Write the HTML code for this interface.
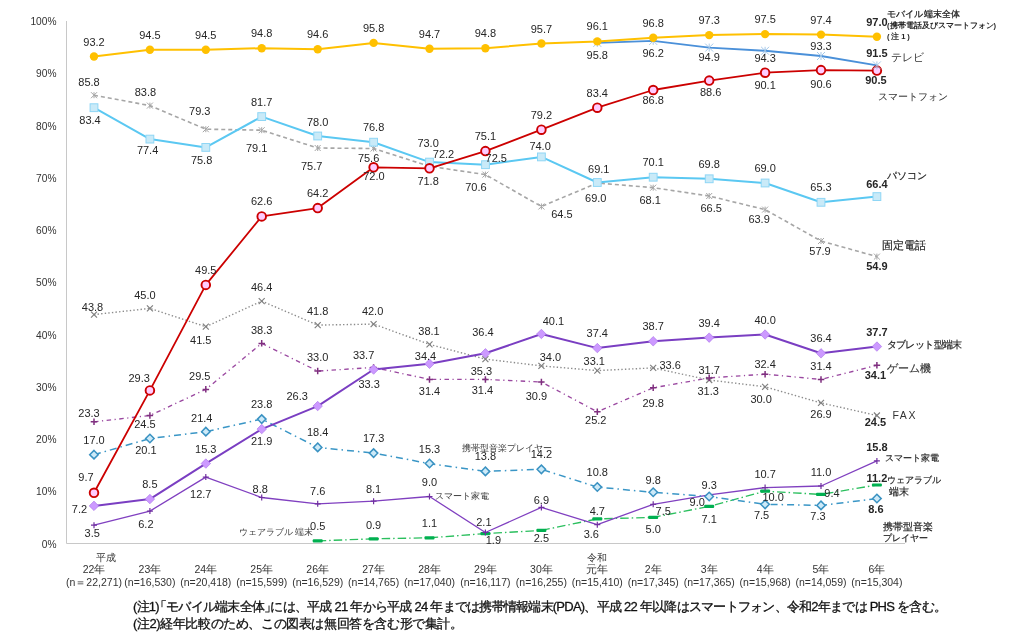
<!DOCTYPE html>
<html><head><meta charset="utf-8"><style>html,body{margin:0;padding:0;background:#fff;width:1024px;height:644px;overflow:hidden;position:relative}</style></head>
<body>
<svg width="1024" height="644" viewBox="0 0 1024 644" style="position:absolute;left:0;top:0;will-change:transform;font-family:'Liberation Sans', sans-serif">
<rect width="1024" height="644" fill="#ffffff"/>
<path d="M66.5 21V543.5H905" fill="none" stroke="#C8C8C8" stroke-width="1"/>
<text x="56.5" y="547.5" font-size="10.2" text-anchor="end" font-weight="normal" fill="#333333">0%</text>
<text x="56.5" y="495.2" font-size="10.2" text-anchor="end" font-weight="normal" fill="#333333">10%</text>
<text x="56.5" y="443.0" font-size="10.2" text-anchor="end" font-weight="normal" fill="#333333">20%</text>
<text x="56.5" y="390.8" font-size="10.2" text-anchor="end" font-weight="normal" fill="#333333">30%</text>
<text x="56.5" y="338.5" font-size="10.2" text-anchor="end" font-weight="normal" fill="#333333">40%</text>
<text x="56.5" y="286.2" font-size="10.2" text-anchor="end" font-weight="normal" fill="#333333">50%</text>
<text x="56.5" y="234.0" font-size="10.2" text-anchor="end" font-weight="normal" fill="#333333">60%</text>
<text x="56.5" y="181.8" font-size="10.2" text-anchor="end" font-weight="normal" fill="#333333">70%</text>
<text x="56.5" y="129.5" font-size="10.2" text-anchor="end" font-weight="normal" fill="#333333">80%</text>
<text x="56.5" y="77.3" font-size="10.2" text-anchor="end" font-weight="normal" fill="#333333">90%</text>
<text x="56.5" y="25.0" font-size="10.2" text-anchor="end" font-weight="normal" fill="#333333">100%</text>
<polyline points="317.7,540.9 373.6,538.8 429.5,537.8 485.4,533.6 541.4,530.4 597.3,518.9 653.2,517.4 709.2,506.4 765.1,491.2 821.0,494.4 876.9,485.0" fill="none" stroke="#2BBF5E" stroke-width="1.35" stroke-dasharray="8.5,3,1.5,3" stroke-linejoin="round" stroke-linecap="butt"/>
<polyline points="94.0,525.2 149.9,511.1 205.8,477.1 261.7,497.5 317.7,503.8 373.6,501.2 429.5,496.5 485.4,532.5 541.4,507.4 597.3,524.7 653.2,504.3 709.2,494.9 765.1,487.6 821.0,486.0 876.9,460.9" fill="none" stroke="#8040C0" stroke-width="1.3" stroke-linejoin="round" stroke-linecap="butt"/>
<polyline points="94.0,454.7 149.9,438.5 205.8,431.7 261.7,419.1 317.7,447.4 373.6,453.1 429.5,463.6 485.4,471.4 541.4,469.3 597.3,487.1 653.2,492.3 709.2,496.5 765.1,504.3 821.0,505.4 876.9,498.6" fill="none" stroke="#3A96C6" stroke-width="1.5" stroke-dasharray="7,4,1.5,4" stroke-linejoin="round" stroke-linecap="butt"/>
<polyline points="94.0,314.6 149.9,308.4 205.8,326.7 261.7,301.1 317.7,325.1 373.6,324.1 429.5,344.4 485.4,359.1 541.4,365.9 597.3,370.6 653.2,367.9 709.2,380.0 765.1,386.8 821.0,402.9 876.9,415.5" fill="none" stroke="#8C8C8C" stroke-width="1.4" stroke-dasharray="1.4,2.2" stroke-linejoin="round" stroke-linecap="butt"/>
<polyline points="94.0,421.8 149.9,415.5 205.8,389.4 261.7,343.4 317.7,371.1 373.6,367.4 429.5,379.4 485.4,379.4 541.4,382.0 597.3,411.8 653.2,387.8 709.2,377.9 765.1,374.2 821.0,379.4 876.9,365.3" fill="none" stroke="#9A48A0" stroke-width="1.35" stroke-dasharray="4.5,3.5,1.2,3.5" stroke-linejoin="round" stroke-linecap="butt"/>
<polyline points="94.0,505.9 149.9,499.1 205.8,463.6 261.7,429.1 317.7,406.1 373.6,369.5 429.5,363.8 485.4,353.3 541.4,334.0 597.3,348.1 653.2,341.3 709.2,337.6 765.1,334.5 821.0,353.3 876.9,346.5" fill="none" stroke="#7A3EC2" stroke-width="2" stroke-linejoin="round" stroke-linecap="butt"/>
<polyline points="94.0,95.2 149.9,105.6 205.8,129.2 261.7,130.2 317.7,148.0 373.6,148.5 429.5,166.3 485.4,174.6 541.4,206.5 597.3,183.0 653.2,187.7 709.2,196.0 765.1,209.6 821.0,241.0 876.9,256.6" fill="none" stroke="#A6A6A6" stroke-width="1.6" stroke-dasharray="4,3" stroke-linejoin="round" stroke-linecap="butt"/>
<polyline points="94.0,107.7 149.9,139.1 205.8,147.4 261.7,116.6 317.7,136.0 373.6,142.2 429.5,162.1 485.4,164.7 541.4,156.9 597.3,182.5 653.2,177.2 709.2,178.8 765.1,183.0 821.0,202.3 876.9,196.6" fill="none" stroke="#5BC8F2" stroke-width="2" stroke-linejoin="round" stroke-linecap="butt"/>
<polyline points="94.0,492.8 149.9,390.4 205.8,284.9 261.7,216.4 317.7,208.1 373.6,167.3 429.5,168.3 485.4,151.1 541.4,129.7 597.3,107.7 653.2,90.0 709.2,80.6 765.1,72.7 821.0,70.1 876.9,70.6" fill="none" stroke="#CC0000" stroke-width="1.8" stroke-linejoin="round" stroke-linecap="butt"/>
<polyline points="597.3,42.9 653.2,40.9 709.2,47.6 765.1,50.8 821.0,56.0 876.9,65.4" fill="none" stroke="#4A90D9" stroke-width="1.9" stroke-linejoin="round" stroke-linecap="butt"/>
<polyline points="94.0,56.5 149.9,49.7 205.8,49.7 261.7,48.2 317.7,49.2 373.6,42.9 429.5,48.7 485.4,48.2 541.4,43.5 597.3,41.4 653.2,37.7 709.2,35.1 765.1,34.1 821.0,34.6 876.9,36.7" fill="none" stroke="#FFC000" stroke-width="2" stroke-linejoin="round" stroke-linecap="butt"/>
<rect x="312.7" y="539.3" width="10" height="3.2" rx="1" fill="#00B050"/>
<rect x="368.6" y="537.2" width="10" height="3.2" rx="1" fill="#00B050"/>
<rect x="424.5" y="536.2" width="10" height="3.2" rx="1" fill="#00B050"/>
<rect x="480.4" y="532.0" width="10" height="3.2" rx="1" fill="#00B050"/>
<rect x="536.4" y="528.8" width="10" height="3.2" rx="1" fill="#00B050"/>
<rect x="592.3" y="517.3" width="10" height="3.2" rx="1" fill="#00B050"/>
<rect x="648.2" y="515.8" width="10" height="3.2" rx="1" fill="#00B050"/>
<rect x="704.2" y="504.8" width="10" height="3.2" rx="1" fill="#00B050"/>
<rect x="760.1" y="489.6" width="10" height="3.2" rx="1" fill="#00B050"/>
<rect x="816.0" y="492.8" width="10" height="3.2" rx="1" fill="#00B050"/>
<rect x="871.9" y="483.4" width="10" height="3.2" rx="1" fill="#00B050"/>
<path d="M91.0 525.2L97.0 525.2M94.0 522.2L94.0 528.2" stroke="#7030A0" stroke-width="1.2" fill="none"/>
<path d="M146.9 511.1L152.9 511.1M149.9 508.1L149.9 514.1" stroke="#7030A0" stroke-width="1.2" fill="none"/>
<path d="M202.8 477.1L208.8 477.1M205.8 474.1L205.8 480.1" stroke="#7030A0" stroke-width="1.2" fill="none"/>
<path d="M258.7 497.5L264.7 497.5M261.7 494.5L261.7 500.5" stroke="#7030A0" stroke-width="1.2" fill="none"/>
<path d="M314.7 503.8L320.7 503.8M317.7 500.8L317.7 506.8" stroke="#7030A0" stroke-width="1.2" fill="none"/>
<path d="M370.6 501.2L376.6 501.2M373.6 498.2L373.6 504.2" stroke="#7030A0" stroke-width="1.2" fill="none"/>
<path d="M426.5 496.5L432.5 496.5M429.5 493.5L429.5 499.5" stroke="#7030A0" stroke-width="1.2" fill="none"/>
<path d="M482.4 532.5L488.4 532.5M485.4 529.5L485.4 535.5" stroke="#7030A0" stroke-width="1.2" fill="none"/>
<path d="M538.4 507.4L544.4 507.4M541.4 504.4L541.4 510.4" stroke="#7030A0" stroke-width="1.2" fill="none"/>
<path d="M594.3 524.7L600.3 524.7M597.3 521.7L597.3 527.7" stroke="#7030A0" stroke-width="1.2" fill="none"/>
<path d="M650.2 504.3L656.2 504.3M653.2 501.3L653.2 507.3" stroke="#7030A0" stroke-width="1.2" fill="none"/>
<path d="M706.2 494.9L712.2 494.9M709.2 491.9L709.2 497.9" stroke="#7030A0" stroke-width="1.2" fill="none"/>
<path d="M762.1 487.6L768.1 487.6M765.1 484.6L765.1 490.6" stroke="#7030A0" stroke-width="1.2" fill="none"/>
<path d="M818.0 486.0L824.0 486.0M821.0 483.0L821.0 489.0" stroke="#7030A0" stroke-width="1.2" fill="none"/>
<path d="M873.9 460.9L879.9 460.9M876.9 457.9L876.9 463.9" stroke="#7030A0" stroke-width="1.2" fill="none"/>
<path d="M94.0 450.4L98.2 454.7L94.0 458.9L89.7 454.7Z" fill="#CDEAF8" stroke="#3A92C2" stroke-width="1.5"/>
<path d="M149.9 434.2L154.1 438.5L149.9 442.7L145.6 438.5Z" fill="#CDEAF8" stroke="#3A92C2" stroke-width="1.5"/>
<path d="M205.8 427.4L210.1 431.7L205.8 435.9L201.6 431.7Z" fill="#CDEAF8" stroke="#3A92C2" stroke-width="1.5"/>
<path d="M261.7 414.9L266.0 419.1L261.7 423.4L257.5 419.1Z" fill="#CDEAF8" stroke="#3A92C2" stroke-width="1.5"/>
<path d="M317.7 443.1L321.9 447.4L317.7 451.6L313.4 447.4Z" fill="#CDEAF8" stroke="#3A92C2" stroke-width="1.5"/>
<path d="M373.6 448.9L377.8 453.1L373.6 457.4L369.3 453.1Z" fill="#CDEAF8" stroke="#3A92C2" stroke-width="1.5"/>
<path d="M429.5 459.3L433.8 463.6L429.5 467.8L425.3 463.6Z" fill="#CDEAF8" stroke="#3A92C2" stroke-width="1.5"/>
<path d="M485.4 467.1L489.7 471.4L485.4 475.6L481.2 471.4Z" fill="#CDEAF8" stroke="#3A92C2" stroke-width="1.5"/>
<path d="M541.4 465.1L545.6 469.3L541.4 473.6L537.1 469.3Z" fill="#CDEAF8" stroke="#3A92C2" stroke-width="1.5"/>
<path d="M597.3 482.8L601.6 487.1L597.3 491.3L593.1 487.1Z" fill="#CDEAF8" stroke="#3A92C2" stroke-width="1.5"/>
<path d="M653.2 488.0L657.5 492.3L653.2 496.5L649.0 492.3Z" fill="#CDEAF8" stroke="#3A92C2" stroke-width="1.5"/>
<path d="M709.2 492.2L713.4 496.5L709.2 500.7L704.9 496.5Z" fill="#CDEAF8" stroke="#3A92C2" stroke-width="1.5"/>
<path d="M765.1 500.1L769.3 504.3L765.1 508.6L760.8 504.3Z" fill="#CDEAF8" stroke="#3A92C2" stroke-width="1.5"/>
<path d="M821.0 501.1L825.3 505.4L821.0 509.6L816.8 505.4Z" fill="#CDEAF8" stroke="#3A92C2" stroke-width="1.5"/>
<path d="M876.9 494.3L881.2 498.6L876.9 502.8L872.7 498.6Z" fill="#CDEAF8" stroke="#3A92C2" stroke-width="1.5"/>
<path d="M91.0 311.6L97.0 317.6M91.0 317.6L97.0 311.6" stroke="#808080" stroke-width="1.2" fill="none"/>
<path d="M146.9 305.4L152.9 311.4M146.9 311.4L152.9 305.4" stroke="#808080" stroke-width="1.2" fill="none"/>
<path d="M202.8 323.7L208.8 329.7M202.8 329.7L208.8 323.7" stroke="#808080" stroke-width="1.2" fill="none"/>
<path d="M258.7 298.1L264.7 304.1M258.7 304.1L264.7 298.1" stroke="#808080" stroke-width="1.2" fill="none"/>
<path d="M314.7 322.1L320.7 328.1M314.7 328.1L320.7 322.1" stroke="#808080" stroke-width="1.2" fill="none"/>
<path d="M370.6 321.1L376.6 327.1M370.6 327.1L376.6 321.1" stroke="#808080" stroke-width="1.2" fill="none"/>
<path d="M426.5 341.4L432.5 347.4M426.5 347.4L432.5 341.4" stroke="#808080" stroke-width="1.2" fill="none"/>
<path d="M482.4 356.1L488.4 362.1M482.4 362.1L488.4 356.1" stroke="#808080" stroke-width="1.2" fill="none"/>
<path d="M538.4 362.9L544.4 368.9M538.4 368.9L544.4 362.9" stroke="#808080" stroke-width="1.2" fill="none"/>
<path d="M594.3 367.6L600.3 373.6M594.3 373.6L600.3 367.6" stroke="#808080" stroke-width="1.2" fill="none"/>
<path d="M650.2 364.9L656.2 370.9M650.2 370.9L656.2 364.9" stroke="#808080" stroke-width="1.2" fill="none"/>
<path d="M706.2 377.0L712.2 383.0M706.2 383.0L712.2 377.0" stroke="#808080" stroke-width="1.2" fill="none"/>
<path d="M762.1 383.8L768.1 389.8M762.1 389.8L768.1 383.8" stroke="#808080" stroke-width="1.2" fill="none"/>
<path d="M818.0 399.9L824.0 405.9M818.0 405.9L824.0 399.9" stroke="#808080" stroke-width="1.2" fill="none"/>
<path d="M873.9 412.5L879.9 418.5M873.9 418.5L879.9 412.5" stroke="#808080" stroke-width="1.2" fill="none"/>
<path d="M90.7 421.8L97.2 421.8M94.0 418.5L94.0 425.0" stroke="#7F2F7F" stroke-width="1.5" fill="none"/>
<path d="M146.6 415.5L153.1 415.5M149.9 412.2L149.9 418.7" stroke="#7F2F7F" stroke-width="1.5" fill="none"/>
<path d="M202.6 389.4L209.1 389.4M205.8 386.1L205.8 392.6" stroke="#7F2F7F" stroke-width="1.5" fill="none"/>
<path d="M258.5 343.4L265.0 343.4M261.7 340.1L261.7 346.6" stroke="#7F2F7F" stroke-width="1.5" fill="none"/>
<path d="M314.4 371.1L320.9 371.1M317.7 367.8L317.7 374.3" stroke="#7F2F7F" stroke-width="1.5" fill="none"/>
<path d="M370.3 367.4L376.8 367.4M373.6 364.2L373.6 370.7" stroke="#7F2F7F" stroke-width="1.5" fill="none"/>
<path d="M426.3 379.4L432.8 379.4M429.5 376.2L429.5 382.7" stroke="#7F2F7F" stroke-width="1.5" fill="none"/>
<path d="M482.2 379.4L488.7 379.4M485.4 376.2L485.4 382.7" stroke="#7F2F7F" stroke-width="1.5" fill="none"/>
<path d="M538.1 382.0L544.6 382.0M541.4 378.8L541.4 385.3" stroke="#7F2F7F" stroke-width="1.5" fill="none"/>
<path d="M594.1 411.8L600.6 411.8M597.3 408.6L597.3 415.1" stroke="#7F2F7F" stroke-width="1.5" fill="none"/>
<path d="M650.0 387.8L656.5 387.8M653.2 384.5L653.2 391.0" stroke="#7F2F7F" stroke-width="1.5" fill="none"/>
<path d="M705.9 377.9L712.4 377.9M709.2 374.6L709.2 381.1" stroke="#7F2F7F" stroke-width="1.5" fill="none"/>
<path d="M761.8 374.2L768.3 374.2M765.1 371.0L765.1 377.5" stroke="#7F2F7F" stroke-width="1.5" fill="none"/>
<path d="M817.8 379.4L824.3 379.4M821.0 376.2L821.0 382.7" stroke="#7F2F7F" stroke-width="1.5" fill="none"/>
<path d="M873.7 365.3L880.2 365.3M876.9 362.1L876.9 368.6" stroke="#7F2F7F" stroke-width="1.5" fill="none"/>
<path d="M94.0 501.1L98.7 505.9L94.0 510.6L89.2 505.9Z" fill="#CC99FF" stroke="#A86FE8" stroke-width="0.6"/>
<path d="M149.9 494.3L154.6 499.1L149.9 503.8L145.1 499.1Z" fill="#CC99FF" stroke="#A86FE8" stroke-width="0.6"/>
<path d="M205.8 458.8L210.6 463.6L205.8 468.3L201.1 463.6Z" fill="#CC99FF" stroke="#A86FE8" stroke-width="0.6"/>
<path d="M261.7 424.3L266.5 429.1L261.7 433.8L257.0 429.1Z" fill="#CC99FF" stroke="#A86FE8" stroke-width="0.6"/>
<path d="M317.7 401.3L322.4 406.1L317.7 410.8L312.9 406.1Z" fill="#CC99FF" stroke="#A86FE8" stroke-width="0.6"/>
<path d="M373.6 364.8L378.3 369.5L373.6 374.3L368.8 369.5Z" fill="#CC99FF" stroke="#A86FE8" stroke-width="0.6"/>
<path d="M429.5 359.0L434.3 363.8L429.5 368.5L424.8 363.8Z" fill="#CC99FF" stroke="#A86FE8" stroke-width="0.6"/>
<path d="M485.4 348.6L490.2 353.3L485.4 358.1L480.7 353.3Z" fill="#CC99FF" stroke="#A86FE8" stroke-width="0.6"/>
<path d="M541.4 329.2L546.1 334.0L541.4 338.7L536.6 334.0Z" fill="#CC99FF" stroke="#A86FE8" stroke-width="0.6"/>
<path d="M597.3 343.3L602.1 348.1L597.3 352.8L592.6 348.1Z" fill="#CC99FF" stroke="#A86FE8" stroke-width="0.6"/>
<path d="M653.2 336.5L658.0 341.3L653.2 346.0L648.5 341.3Z" fill="#CC99FF" stroke="#A86FE8" stroke-width="0.6"/>
<path d="M709.2 332.9L713.9 337.6L709.2 342.4L704.4 337.6Z" fill="#CC99FF" stroke="#A86FE8" stroke-width="0.6"/>
<path d="M765.1 329.8L769.8 334.5L765.1 339.2L760.3 334.5Z" fill="#CC99FF" stroke="#A86FE8" stroke-width="0.6"/>
<path d="M821.0 348.6L825.8 353.3L821.0 358.1L816.3 353.3Z" fill="#CC99FF" stroke="#A86FE8" stroke-width="0.6"/>
<path d="M876.9 341.8L881.7 346.5L876.9 351.3L872.2 346.5Z" fill="#CC99FF" stroke="#A86FE8" stroke-width="0.6"/>
<path d="M91.0 92.2L97.0 98.2M91.0 98.2L97.0 92.2M94.0 92.2L94.0 98.2" stroke="#A6A6A6" stroke-width="1.0" fill="none"/>
<path d="M146.9 102.6L152.9 108.6M146.9 108.6L152.9 102.6M149.9 102.6L149.9 108.6" stroke="#A6A6A6" stroke-width="1.0" fill="none"/>
<path d="M202.8 126.2L208.8 132.2M202.8 132.2L208.8 126.2M205.8 126.2L205.8 132.2" stroke="#A6A6A6" stroke-width="1.0" fill="none"/>
<path d="M258.7 127.2L264.7 133.2M258.7 133.2L264.7 127.2M261.7 127.2L261.7 133.2" stroke="#A6A6A6" stroke-width="1.0" fill="none"/>
<path d="M314.7 145.0L320.7 151.0M314.7 151.0L320.7 145.0M317.7 145.0L317.7 151.0" stroke="#A6A6A6" stroke-width="1.0" fill="none"/>
<path d="M370.6 145.5L376.6 151.5M370.6 151.5L376.6 145.5M373.6 145.5L373.6 151.5" stroke="#A6A6A6" stroke-width="1.0" fill="none"/>
<path d="M426.5 163.3L432.5 169.3M426.5 169.3L432.5 163.3M429.5 163.3L429.5 169.3" stroke="#A6A6A6" stroke-width="1.0" fill="none"/>
<path d="M482.4 171.6L488.4 177.6M482.4 177.6L488.4 171.6M485.4 171.6L485.4 177.6" stroke="#A6A6A6" stroke-width="1.0" fill="none"/>
<path d="M538.4 203.5L544.4 209.5M538.4 209.5L544.4 203.5M541.4 203.5L541.4 209.5" stroke="#A6A6A6" stroke-width="1.0" fill="none"/>
<path d="M594.3 180.0L600.3 186.0M594.3 186.0L600.3 180.0M597.3 180.0L597.3 186.0" stroke="#A6A6A6" stroke-width="1.0" fill="none"/>
<path d="M650.2 184.7L656.2 190.7M650.2 190.7L656.2 184.7M653.2 184.7L653.2 190.7" stroke="#A6A6A6" stroke-width="1.0" fill="none"/>
<path d="M706.2 193.0L712.2 199.0M706.2 199.0L712.2 193.0M709.2 193.0L709.2 199.0" stroke="#A6A6A6" stroke-width="1.0" fill="none"/>
<path d="M762.1 206.6L768.1 212.6M762.1 212.6L768.1 206.6M765.1 206.6L765.1 212.6" stroke="#A6A6A6" stroke-width="1.0" fill="none"/>
<path d="M818.0 238.0L824.0 244.0M818.0 244.0L824.0 238.0M821.0 238.0L821.0 244.0" stroke="#A6A6A6" stroke-width="1.0" fill="none"/>
<path d="M873.9 253.6L879.9 259.6M873.9 259.6L879.9 253.6M876.9 253.6L876.9 259.6" stroke="#A6A6A6" stroke-width="1.0" fill="none"/>
<rect x="90.1" y="103.8" width="7.8" height="7.8" fill="#C9EAF8" stroke="#8FD6F5" stroke-width="1"/>
<rect x="146.0" y="135.2" width="7.8" height="7.8" fill="#C9EAF8" stroke="#8FD6F5" stroke-width="1"/>
<rect x="201.9" y="143.5" width="7.8" height="7.8" fill="#C9EAF8" stroke="#8FD6F5" stroke-width="1"/>
<rect x="257.8" y="112.7" width="7.8" height="7.8" fill="#C9EAF8" stroke="#8FD6F5" stroke-width="1"/>
<rect x="313.8" y="132.1" width="7.8" height="7.8" fill="#C9EAF8" stroke="#8FD6F5" stroke-width="1"/>
<rect x="369.7" y="138.3" width="7.8" height="7.8" fill="#C9EAF8" stroke="#8FD6F5" stroke-width="1"/>
<rect x="425.6" y="158.2" width="7.8" height="7.8" fill="#C9EAF8" stroke="#8FD6F5" stroke-width="1"/>
<rect x="481.6" y="160.8" width="7.8" height="7.8" fill="#C9EAF8" stroke="#8FD6F5" stroke-width="1"/>
<rect x="537.5" y="153.0" width="7.8" height="7.8" fill="#C9EAF8" stroke="#8FD6F5" stroke-width="1"/>
<rect x="593.4" y="178.6" width="7.8" height="7.8" fill="#C9EAF8" stroke="#8FD6F5" stroke-width="1"/>
<rect x="649.3" y="173.3" width="7.8" height="7.8" fill="#C9EAF8" stroke="#8FD6F5" stroke-width="1"/>
<rect x="705.3" y="174.9" width="7.8" height="7.8" fill="#C9EAF8" stroke="#8FD6F5" stroke-width="1"/>
<rect x="761.2" y="179.1" width="7.8" height="7.8" fill="#C9EAF8" stroke="#8FD6F5" stroke-width="1"/>
<rect x="817.1" y="198.4" width="7.8" height="7.8" fill="#C9EAF8" stroke="#8FD6F5" stroke-width="1"/>
<rect x="873.0" y="192.7" width="7.8" height="7.8" fill="#C9EAF8" stroke="#8FD6F5" stroke-width="1"/>
<circle cx="94.0" cy="492.8" r="4.3" fill="#FFCCFF" stroke="#CC0000" stroke-width="1.9"/>
<circle cx="149.9" cy="390.4" r="4.3" fill="#FFCCFF" stroke="#CC0000" stroke-width="1.9"/>
<circle cx="205.8" cy="284.9" r="4.3" fill="#FFCCFF" stroke="#CC0000" stroke-width="1.9"/>
<circle cx="261.7" cy="216.4" r="4.3" fill="#FFCCFF" stroke="#CC0000" stroke-width="1.9"/>
<circle cx="317.7" cy="208.1" r="4.3" fill="#FFCCFF" stroke="#CC0000" stroke-width="1.9"/>
<circle cx="373.6" cy="167.3" r="4.3" fill="#FFCCFF" stroke="#CC0000" stroke-width="1.9"/>
<circle cx="429.5" cy="168.3" r="4.3" fill="#FFCCFF" stroke="#CC0000" stroke-width="1.9"/>
<circle cx="485.4" cy="151.1" r="4.3" fill="#FFCCFF" stroke="#CC0000" stroke-width="1.9"/>
<circle cx="541.4" cy="129.7" r="4.3" fill="#FFCCFF" stroke="#CC0000" stroke-width="1.9"/>
<circle cx="597.3" cy="107.7" r="4.3" fill="#FFCCFF" stroke="#CC0000" stroke-width="1.9"/>
<circle cx="653.2" cy="90.0" r="4.3" fill="#FFCCFF" stroke="#CC0000" stroke-width="1.9"/>
<circle cx="709.2" cy="80.6" r="4.3" fill="#FFCCFF" stroke="#CC0000" stroke-width="1.9"/>
<circle cx="765.1" cy="72.7" r="4.3" fill="#FFCCFF" stroke="#CC0000" stroke-width="1.9"/>
<circle cx="821.0" cy="70.1" r="4.3" fill="#FFCCFF" stroke="#CC0000" stroke-width="1.9"/>
<circle cx="876.9" cy="70.6" r="4.3" fill="#FFCCFF" stroke="#CC0000" stroke-width="1.9"/>
<path d="M593.3 38.9L601.3 46.9M593.3 46.9L601.3 38.9M597.3 38.9L597.3 46.9" stroke="#9DC3E6" stroke-width="0.9" fill="none"/>
<path d="M649.2 36.9L657.2 44.9M649.2 44.9L657.2 36.9M653.2 36.9L653.2 44.9" stroke="#9DC3E6" stroke-width="0.9" fill="none"/>
<path d="M705.2 43.6L713.2 51.6M705.2 51.6L713.2 43.6M709.2 43.6L709.2 51.6" stroke="#9DC3E6" stroke-width="0.9" fill="none"/>
<path d="M761.1 46.8L769.1 54.8M761.1 54.8L769.1 46.8M765.1 46.8L765.1 54.8" stroke="#9DC3E6" stroke-width="0.9" fill="none"/>
<path d="M817.0 52.0L825.0 60.0M817.0 60.0L825.0 52.0M821.0 52.0L821.0 60.0" stroke="#9DC3E6" stroke-width="0.9" fill="none"/>
<path d="M872.9 61.4L880.9 69.4M872.9 69.4L880.9 61.4M876.9 61.4L876.9 69.4" stroke="#9DC3E6" stroke-width="0.9" fill="none"/>
<circle cx="94.0" cy="56.5" r="4.2" fill="#FFC000"/>
<circle cx="149.9" cy="49.7" r="4.2" fill="#FFC000"/>
<circle cx="205.8" cy="49.7" r="4.2" fill="#FFC000"/>
<circle cx="261.7" cy="48.2" r="4.2" fill="#FFC000"/>
<circle cx="317.7" cy="49.2" r="4.2" fill="#FFC000"/>
<circle cx="373.6" cy="42.9" r="4.2" fill="#FFC000"/>
<circle cx="429.5" cy="48.7" r="4.2" fill="#FFC000"/>
<circle cx="485.4" cy="48.2" r="4.2" fill="#FFC000"/>
<circle cx="541.4" cy="43.5" r="4.2" fill="#FFC000"/>
<circle cx="597.3" cy="41.4" r="4.2" fill="#FFC000"/>
<circle cx="653.2" cy="37.7" r="4.2" fill="#FFC000"/>
<circle cx="709.2" cy="35.1" r="4.2" fill="#FFC000"/>
<circle cx="765.1" cy="34.1" r="4.2" fill="#FFC000"/>
<circle cx="821.0" cy="34.6" r="4.2" fill="#FFC000"/>
<circle cx="876.9" cy="36.7" r="4.2" fill="#FFC000"/>
<text x="94.0" y="45.5" font-size="11" text-anchor="middle" font-weight="normal" fill="#262626">93.2</text>
<text x="149.9" y="38.7" font-size="11" text-anchor="middle" font-weight="normal" fill="#262626">94.5</text>
<text x="205.8" y="38.7" font-size="11" text-anchor="middle" font-weight="normal" fill="#262626">94.5</text>
<text x="261.7" y="37.2" font-size="11" text-anchor="middle" font-weight="normal" fill="#262626">94.8</text>
<text x="317.7" y="38.2" font-size="11" text-anchor="middle" font-weight="normal" fill="#262626">94.6</text>
<text x="373.6" y="31.9" font-size="11" text-anchor="middle" font-weight="normal" fill="#262626">95.8</text>
<text x="429.5" y="37.7" font-size="11" text-anchor="middle" font-weight="normal" fill="#262626">94.7</text>
<text x="485.4" y="37.2" font-size="11" text-anchor="middle" font-weight="normal" fill="#262626">94.8</text>
<text x="541.4" y="32.5" font-size="11" text-anchor="middle" font-weight="normal" fill="#262626">95.7</text>
<text x="597.3" y="30.4" font-size="11" text-anchor="middle" font-weight="normal" fill="#262626">96.1</text>
<text x="653.2" y="26.7" font-size="11" text-anchor="middle" font-weight="normal" fill="#262626">96.8</text>
<text x="709.2" y="24.1" font-size="11" text-anchor="middle" font-weight="normal" fill="#262626">97.3</text>
<text x="765.1" y="23.1" font-size="11" text-anchor="middle" font-weight="normal" fill="#262626">97.5</text>
<text x="821.0" y="23.6" font-size="11" text-anchor="middle" font-weight="normal" fill="#262626">97.4</text>
<text x="876.9" y="25.7" font-size="11" text-anchor="middle" font-weight="bold" fill="#262626">97.0</text>
<text x="597.3" y="58.7" font-size="11" text-anchor="middle" font-weight="normal" fill="#262626">95.8</text>
<text x="653.2" y="56.9" font-size="11" text-anchor="middle" font-weight="normal" fill="#262626">96.2</text>
<text x="709.2" y="60.6" font-size="11" text-anchor="middle" font-weight="normal" fill="#262626">94.9</text>
<text x="765.1" y="61.6" font-size="11" text-anchor="middle" font-weight="normal" fill="#262626">94.3</text>
<text x="821.0" y="50.0" font-size="11" text-anchor="middle" font-weight="normal" fill="#262626">93.3</text>
<text x="876.9" y="57.4" font-size="11" text-anchor="middle" font-weight="bold" fill="#262626">91.5</text>
<text x="86.0" y="480.8" font-size="11" text-anchor="middle" font-weight="normal" fill="#262626">9.7</text>
<text x="139.2" y="382.0" font-size="11" text-anchor="middle" font-weight="normal" fill="#262626">29.3</text>
<text x="205.8" y="273.9" font-size="11" text-anchor="middle" font-weight="normal" fill="#262626">49.5</text>
<text x="261.7" y="205.4" font-size="11" text-anchor="middle" font-weight="normal" fill="#262626">62.6</text>
<text x="317.7" y="197.1" font-size="11" text-anchor="middle" font-weight="normal" fill="#262626">64.2</text>
<text x="373.9" y="180.3" font-size="11" text-anchor="middle" font-weight="normal" fill="#262626">72.0</text>
<text x="428.1" y="185.3" font-size="11" text-anchor="middle" font-weight="normal" fill="#262626">71.8</text>
<text x="485.4" y="140.1" font-size="11" text-anchor="middle" font-weight="normal" fill="#262626">75.1</text>
<text x="541.4" y="118.7" font-size="11" text-anchor="middle" font-weight="normal" fill="#262626">79.2</text>
<text x="597.3" y="96.7" font-size="11" text-anchor="middle" font-weight="normal" fill="#262626">83.4</text>
<text x="653.2" y="103.7" font-size="11" text-anchor="middle" font-weight="normal" fill="#262626">86.8</text>
<text x="710.7" y="95.9" font-size="11" text-anchor="middle" font-weight="normal" fill="#262626">88.6</text>
<text x="765.1" y="89.4" font-size="11" text-anchor="middle" font-weight="normal" fill="#262626">90.1</text>
<text x="821.0" y="87.8" font-size="11" text-anchor="middle" font-weight="normal" fill="#262626">90.6</text>
<text x="875.9" y="84.2" font-size="11" text-anchor="middle" font-weight="bold" fill="#262626">90.5</text>
<text x="90.0" y="123.7" font-size="11" text-anchor="middle" font-weight="normal" fill="#262626">83.4</text>
<text x="147.6" y="153.8" font-size="11" text-anchor="middle" font-weight="normal" fill="#262626">77.4</text>
<text x="201.6" y="164.1" font-size="11" text-anchor="middle" font-weight="normal" fill="#262626">75.8</text>
<text x="261.7" y="105.6" font-size="11" text-anchor="middle" font-weight="normal" fill="#262626">81.7</text>
<text x="317.7" y="125.7" font-size="11" text-anchor="middle" font-weight="normal" fill="#262626">78.0</text>
<text x="373.6" y="131.2" font-size="11" text-anchor="middle" font-weight="normal" fill="#262626">76.8</text>
<text x="428.1" y="147.1" font-size="11" text-anchor="middle" font-weight="normal" fill="#262626">73.0</text>
<text x="496.3" y="161.5" font-size="11" text-anchor="middle" font-weight="normal" fill="#262626">72.5</text>
<text x="540.1" y="149.9" font-size="11" text-anchor="middle" font-weight="normal" fill="#262626">74.0</text>
<text x="598.8" y="173.0" font-size="11" text-anchor="middle" font-weight="normal" fill="#262626">69.1</text>
<text x="653.2" y="166.2" font-size="11" text-anchor="middle" font-weight="normal" fill="#262626">70.1</text>
<text x="709.2" y="167.8" font-size="11" text-anchor="middle" font-weight="normal" fill="#262626">69.8</text>
<text x="765.1" y="172.0" font-size="11" text-anchor="middle" font-weight="normal" fill="#262626">69.0</text>
<text x="821.0" y="191.3" font-size="11" text-anchor="middle" font-weight="normal" fill="#262626">65.3</text>
<text x="876.9" y="188.2" font-size="11" text-anchor="middle" font-weight="bold" fill="#262626">66.4</text>
<text x="89.0" y="85.6" font-size="11" text-anchor="middle" font-weight="normal" fill="#262626">85.8</text>
<text x="145.4" y="96.2" font-size="11" text-anchor="middle" font-weight="normal" fill="#262626">83.8</text>
<text x="199.8" y="114.7" font-size="11" text-anchor="middle" font-weight="normal" fill="#262626">79.3</text>
<text x="256.7" y="152.2" font-size="11" text-anchor="middle" font-weight="normal" fill="#262626">79.1</text>
<text x="311.7" y="170.0" font-size="11" text-anchor="middle" font-weight="normal" fill="#262626">75.7</text>
<text x="368.6" y="162.0" font-size="11" text-anchor="middle" font-weight="normal" fill="#262626">75.6</text>
<text x="443.5" y="158.0" font-size="11" text-anchor="middle" font-weight="normal" fill="#262626">72.2</text>
<text x="475.9" y="190.6" font-size="11" text-anchor="middle" font-weight="normal" fill="#262626">70.6</text>
<text x="561.9" y="218.2" font-size="11" text-anchor="middle" font-weight="normal" fill="#262626">64.5</text>
<text x="595.8" y="202.0" font-size="11" text-anchor="middle" font-weight="normal" fill="#262626">69.0</text>
<text x="650.2" y="203.7" font-size="11" text-anchor="middle" font-weight="normal" fill="#262626">68.1</text>
<text x="711.2" y="212.0" font-size="11" text-anchor="middle" font-weight="normal" fill="#262626">66.5</text>
<text x="759.1" y="223.2" font-size="11" text-anchor="middle" font-weight="normal" fill="#262626">63.9</text>
<text x="820.0" y="255.0" font-size="11" text-anchor="middle" font-weight="normal" fill="#262626">57.9</text>
<text x="876.9" y="269.9" font-size="11" text-anchor="middle" font-weight="bold" fill="#262626">54.9</text>
<text x="79.5" y="512.9" font-size="11" text-anchor="middle" font-weight="normal" fill="#262626">7.2</text>
<text x="149.9" y="488.1" font-size="11" text-anchor="middle" font-weight="normal" fill="#262626">8.5</text>
<text x="205.8" y="452.6" font-size="11" text-anchor="middle" font-weight="normal" fill="#262626">15.3</text>
<text x="261.7" y="444.6" font-size="11" text-anchor="middle" font-weight="normal" fill="#262626">21.9</text>
<text x="297.2" y="400.1" font-size="11" text-anchor="middle" font-weight="normal" fill="#262626">26.3</text>
<text x="369.1" y="387.5" font-size="11" text-anchor="middle" font-weight="normal" fill="#262626">33.3</text>
<text x="425.5" y="360.1" font-size="11" text-anchor="middle" font-weight="normal" fill="#262626">34.4</text>
<text x="482.9" y="335.7" font-size="11" text-anchor="middle" font-weight="normal" fill="#262626">36.4</text>
<text x="553.4" y="325.0" font-size="11" text-anchor="middle" font-weight="normal" fill="#262626">40.1</text>
<text x="597.3" y="337.1" font-size="11" text-anchor="middle" font-weight="normal" fill="#262626">37.4</text>
<text x="653.2" y="330.3" font-size="11" text-anchor="middle" font-weight="normal" fill="#262626">38.7</text>
<text x="709.2" y="326.6" font-size="11" text-anchor="middle" font-weight="normal" fill="#262626">39.4</text>
<text x="765.1" y="323.5" font-size="11" text-anchor="middle" font-weight="normal" fill="#262626">40.0</text>
<text x="821.0" y="342.3" font-size="11" text-anchor="middle" font-weight="normal" fill="#262626">36.4</text>
<text x="876.9" y="335.5" font-size="11" text-anchor="middle" font-weight="bold" fill="#262626">37.7</text>
<text x="89.0" y="417.1" font-size="11" text-anchor="middle" font-weight="normal" fill="#262626">23.3</text>
<text x="144.9" y="428.3" font-size="11" text-anchor="middle" font-weight="normal" fill="#262626">24.5</text>
<text x="199.8" y="380.0" font-size="11" text-anchor="middle" font-weight="normal" fill="#262626">29.5</text>
<text x="261.7" y="334.0" font-size="11" text-anchor="middle" font-weight="normal" fill="#262626">38.3</text>
<text x="317.7" y="361.4" font-size="11" text-anchor="middle" font-weight="normal" fill="#262626">33.0</text>
<text x="363.6" y="358.8" font-size="11" text-anchor="middle" font-weight="normal" fill="#262626">33.7</text>
<text x="429.5" y="394.8" font-size="11" text-anchor="middle" font-weight="normal" fill="#262626">31.4</text>
<text x="482.4" y="394.4" font-size="11" text-anchor="middle" font-weight="normal" fill="#262626">31.4</text>
<text x="536.4" y="399.5" font-size="11" text-anchor="middle" font-weight="normal" fill="#262626">30.9</text>
<text x="595.8" y="423.8" font-size="11" text-anchor="middle" font-weight="normal" fill="#262626">25.2</text>
<text x="653.2" y="407.2" font-size="11" text-anchor="middle" font-weight="normal" fill="#262626">29.8</text>
<text x="709.2" y="373.6" font-size="11" text-anchor="middle" font-weight="normal" fill="#262626">31.7</text>
<text x="765.1" y="368.2" font-size="11" text-anchor="middle" font-weight="normal" fill="#262626">32.4</text>
<text x="821.0" y="369.8" font-size="11" text-anchor="middle" font-weight="normal" fill="#262626">31.4</text>
<text x="875.4" y="379.1" font-size="11" text-anchor="middle" font-weight="bold" fill="#262626">34.1</text>
<text x="92.5" y="311.1" font-size="11" text-anchor="middle" font-weight="normal" fill="#262626">43.8</text>
<text x="144.9" y="299.4" font-size="11" text-anchor="middle" font-weight="normal" fill="#262626">45.0</text>
<text x="200.8" y="344.3" font-size="11" text-anchor="middle" font-weight="normal" fill="#262626">41.5</text>
<text x="261.7" y="291.1" font-size="11" text-anchor="middle" font-weight="normal" fill="#262626">46.4</text>
<text x="317.7" y="315.1" font-size="11" text-anchor="middle" font-weight="normal" fill="#262626">41.8</text>
<text x="372.6" y="315.1" font-size="11" text-anchor="middle" font-weight="normal" fill="#262626">42.0</text>
<text x="429.0" y="335.1" font-size="11" text-anchor="middle" font-weight="normal" fill="#262626">38.1</text>
<text x="481.4" y="374.5" font-size="11" text-anchor="middle" font-weight="normal" fill="#262626">35.3</text>
<text x="550.4" y="360.5" font-size="11" text-anchor="middle" font-weight="normal" fill="#262626">34.0</text>
<text x="594.3" y="365.3" font-size="11" text-anchor="middle" font-weight="normal" fill="#262626">33.1</text>
<text x="670.2" y="368.9" font-size="11" text-anchor="middle" font-weight="normal" fill="#262626">33.6</text>
<text x="708.2" y="395.0" font-size="11" text-anchor="middle" font-weight="normal" fill="#262626">31.3</text>
<text x="761.1" y="403.4" font-size="11" text-anchor="middle" font-weight="normal" fill="#262626">30.0</text>
<text x="821.0" y="418.3" font-size="11" text-anchor="middle" font-weight="normal" fill="#262626">26.9</text>
<text x="875.4" y="425.8" font-size="11" text-anchor="middle" font-weight="bold" fill="#262626">24.5</text>
<text x="94.0" y="443.7" font-size="11" text-anchor="middle" font-weight="normal" fill="#262626">17.0</text>
<text x="145.9" y="454.3" font-size="11" text-anchor="middle" font-weight="normal" fill="#262626">20.1</text>
<text x="201.8" y="422.4" font-size="11" text-anchor="middle" font-weight="normal" fill="#262626">21.4</text>
<text x="261.7" y="408.1" font-size="11" text-anchor="middle" font-weight="normal" fill="#262626">23.8</text>
<text x="317.7" y="436.4" font-size="11" text-anchor="middle" font-weight="normal" fill="#262626">18.4</text>
<text x="373.6" y="442.1" font-size="11" text-anchor="middle" font-weight="normal" fill="#262626">17.3</text>
<text x="429.5" y="452.6" font-size="11" text-anchor="middle" font-weight="normal" fill="#262626">15.3</text>
<text x="485.4" y="460.4" font-size="11" text-anchor="middle" font-weight="normal" fill="#262626">13.8</text>
<text x="541.4" y="458.3" font-size="11" text-anchor="middle" font-weight="normal" fill="#262626">14.2</text>
<text x="597.3" y="476.1" font-size="11" text-anchor="middle" font-weight="normal" fill="#262626">10.8</text>
<text x="653.2" y="483.5" font-size="11" text-anchor="middle" font-weight="normal" fill="#262626">9.8</text>
<text x="697.2" y="505.9" font-size="11" text-anchor="middle" font-weight="normal" fill="#262626">9.0</text>
<text x="761.6" y="518.7" font-size="11" text-anchor="middle" font-weight="normal" fill="#262626">7.5</text>
<text x="818.0" y="519.9" font-size="11" text-anchor="middle" font-weight="normal" fill="#262626">7.3</text>
<text x="875.9" y="512.6" font-size="11" text-anchor="middle" font-weight="bold" fill="#262626">8.6</text>
<text x="92.2" y="536.8" font-size="11" text-anchor="middle" font-weight="normal" fill="#262626">3.5</text>
<text x="145.9" y="528.4" font-size="11" text-anchor="middle" font-weight="normal" fill="#262626">6.2</text>
<text x="200.8" y="498.1" font-size="11" text-anchor="middle" font-weight="normal" fill="#262626">12.7</text>
<text x="260.2" y="492.5" font-size="11" text-anchor="middle" font-weight="normal" fill="#262626">8.8</text>
<text x="317.7" y="494.8" font-size="11" text-anchor="middle" font-weight="normal" fill="#262626">7.6</text>
<text x="373.6" y="492.5" font-size="11" text-anchor="middle" font-weight="normal" fill="#262626">8.1</text>
<text x="429.5" y="486.0" font-size="11" text-anchor="middle" font-weight="normal" fill="#262626">9.0</text>
<text x="483.9" y="525.8" font-size="11" text-anchor="middle" font-weight="normal" fill="#262626">2.1</text>
<text x="541.4" y="503.9" font-size="11" text-anchor="middle" font-weight="normal" fill="#262626">6.9</text>
<text x="591.3" y="537.7" font-size="11" text-anchor="middle" font-weight="normal" fill="#262626">3.6</text>
<text x="663.2" y="515.3" font-size="11" text-anchor="middle" font-weight="normal" fill="#262626">7.5</text>
<text x="709.2" y="488.9" font-size="11" text-anchor="middle" font-weight="normal" fill="#262626">9.3</text>
<text x="765.1" y="478.3" font-size="11" text-anchor="middle" font-weight="normal" fill="#262626">10.7</text>
<text x="821.0" y="476.0" font-size="11" text-anchor="middle" font-weight="normal" fill="#262626">11.0</text>
<text x="876.9" y="450.9" font-size="11" text-anchor="middle" font-weight="bold" fill="#262626">15.8</text>
<text x="317.7" y="529.9" font-size="11" text-anchor="middle" font-weight="normal" fill="#262626">0.5</text>
<text x="373.6" y="528.8" font-size="11" text-anchor="middle" font-weight="normal" fill="#262626">0.9</text>
<text x="429.5" y="526.8" font-size="11" text-anchor="middle" font-weight="normal" fill="#262626">1.1</text>
<text x="493.4" y="544.0" font-size="11" text-anchor="middle" font-weight="normal" fill="#262626">1.9</text>
<text x="541.4" y="542.4" font-size="11" text-anchor="middle" font-weight="normal" fill="#262626">2.5</text>
<text x="597.3" y="514.9" font-size="11" text-anchor="middle" font-weight="normal" fill="#262626">4.7</text>
<text x="653.2" y="533.4" font-size="11" text-anchor="middle" font-weight="normal" fill="#262626">5.0</text>
<text x="709.2" y="522.8" font-size="11" text-anchor="middle" font-weight="normal" fill="#262626">7.1</text>
<text x="773.1" y="501.1" font-size="11" text-anchor="middle" font-weight="normal" fill="#262626">10.0</text>
<text x="832.0" y="497.4" font-size="11" text-anchor="middle" font-weight="normal" fill="#262626">9.4</text>
<text x="876.9" y="481.7" font-size="11" text-anchor="middle" font-weight="bold" fill="#262626">11.2</text>
<text x="887.0" y="17.0" font-size="9.45" text-anchor="start" font-weight="normal" fill="#1a1a1a" stroke="#1a1a1a" stroke-width="0.25">モバイル&#8202;端末全体</text>
<text x="887.0" y="28.0" font-size="7.6" text-anchor="start" font-weight="bold" fill="#262626">(携帯電話及びスマートフォン)</text>
<text x="887.0" y="39.0" font-size="7.6" text-anchor="start" font-weight="bold" fill="#262626" letter-spacing="1.8">(注1)</text>
<text x="890.5" y="61.0" font-size="10.5" text-anchor="start" font-weight="normal" fill="#333333">テレビ</text>
<text x="877.5" y="100.0" font-size="10" text-anchor="start" font-weight="normal" fill="#333333">スマートフォン</text>
<text x="886.5" y="178.5" font-size="9.5" text-anchor="start" font-weight="normal" fill="#262626" stroke="#262626" stroke-width="0.2">パソコン</text>
<text x="881.5" y="248.5" font-size="10.6" text-anchor="start" font-weight="normal" fill="#262626" stroke="#262626" stroke-width="0.2">固定電話</text>
<text x="886.5" y="348.3" font-size="10" text-anchor="start" font-weight="normal" fill="#262626" stroke="#262626" stroke-width="0.2" letter-spacing="-0.6">タブレット型端末</text>
<text x="886.7" y="371.5" font-size="10.5" text-anchor="start" font-weight="normal" fill="#333333" stroke="#333333" stroke-width="0.15">ゲーム機</text>
<text x="892.4" y="418.6" font-size="10.5" text-anchor="start" font-weight="normal" fill="#333333" letter-spacing="1.6">FAX</text>
<text x="884.7" y="460.5" font-size="9" text-anchor="start" font-weight="normal" fill="#262626" stroke="#262626" stroke-width="0.2">スマート家電</text>
<text x="887.0" y="482.5" font-size="8.6" text-anchor="start" font-weight="normal" fill="#262626" stroke="#262626" stroke-width="0.2">ウェアラブル</text>
<text x="889.0" y="494.5" font-size="9.5" text-anchor="start" font-weight="normal" fill="#262626" stroke="#262626" stroke-width="0.2">端末</text>
<text x="883.4" y="530.0" font-size="9.6" text-anchor="start" font-weight="normal" fill="#262626" stroke="#262626" stroke-width="0.2">携帯型音楽</text>
<text x="883.4" y="541.0" font-size="9" text-anchor="start" font-weight="normal" fill="#262626" stroke="#262626" stroke-width="0.2">プレイヤー</text>
<text x="239.3" y="534.6" font-size="8.7" text-anchor="start" font-weight="normal" fill="#404040">ウェアラブル&#8201;端末</text>
<text x="462.3" y="451.3" font-size="8.7" text-anchor="start" font-weight="normal" fill="#404040">携帯型音楽プレイヤー</text>
<text x="434.8" y="498.6" font-size="8.8" text-anchor="start" font-weight="normal" fill="#333333">スマート家電</text>
<text x="94.0" y="572.8" font-size="10.5" text-anchor="middle" font-weight="normal" fill="#333333">22年</text>
<text x="94.0" y="586.2" font-size="10.5" text-anchor="middle" font-weight="normal" fill="#333333">(n＝22,271)</text>
<text x="149.9" y="572.8" font-size="10.5" text-anchor="middle" font-weight="normal" fill="#333333">23年</text>
<text x="149.9" y="586.2" font-size="10.5" text-anchor="middle" font-weight="normal" fill="#333333">(n=16,530)</text>
<text x="205.8" y="572.8" font-size="10.5" text-anchor="middle" font-weight="normal" fill="#333333">24年</text>
<text x="205.8" y="586.2" font-size="10.5" text-anchor="middle" font-weight="normal" fill="#333333">(n=20,418)</text>
<text x="261.7" y="572.8" font-size="10.5" text-anchor="middle" font-weight="normal" fill="#333333">25年</text>
<text x="261.7" y="586.2" font-size="10.5" text-anchor="middle" font-weight="normal" fill="#333333">(n=15,599)</text>
<text x="317.7" y="572.8" font-size="10.5" text-anchor="middle" font-weight="normal" fill="#333333">26年</text>
<text x="317.7" y="586.2" font-size="10.5" text-anchor="middle" font-weight="normal" fill="#333333">(n=16,529)</text>
<text x="373.6" y="572.8" font-size="10.5" text-anchor="middle" font-weight="normal" fill="#333333">27年</text>
<text x="373.6" y="586.2" font-size="10.5" text-anchor="middle" font-weight="normal" fill="#333333">(n=14,765)</text>
<text x="429.5" y="572.8" font-size="10.5" text-anchor="middle" font-weight="normal" fill="#333333">28年</text>
<text x="429.5" y="586.2" font-size="10.5" text-anchor="middle" font-weight="normal" fill="#333333">(n=17,040)</text>
<text x="485.4" y="572.8" font-size="10.5" text-anchor="middle" font-weight="normal" fill="#333333">29年</text>
<text x="485.4" y="586.2" font-size="10.5" text-anchor="middle" font-weight="normal" fill="#333333">(n=16,117)</text>
<text x="541.4" y="572.8" font-size="10.5" text-anchor="middle" font-weight="normal" fill="#333333">30年</text>
<text x="541.4" y="586.2" font-size="10.5" text-anchor="middle" font-weight="normal" fill="#333333">(n=16,255)</text>
<text x="597.3" y="572.8" font-size="10.5" text-anchor="middle" font-weight="normal" fill="#333333">元年</text>
<text x="597.3" y="586.2" font-size="10.5" text-anchor="middle" font-weight="normal" fill="#333333">(n=15,410)</text>
<text x="653.2" y="572.8" font-size="10.5" text-anchor="middle" font-weight="normal" fill="#333333">2年</text>
<text x="653.2" y="586.2" font-size="10.5" text-anchor="middle" font-weight="normal" fill="#333333">(n=17,345)</text>
<text x="709.2" y="572.8" font-size="10.5" text-anchor="middle" font-weight="normal" fill="#333333">3年</text>
<text x="709.2" y="586.2" font-size="10.5" text-anchor="middle" font-weight="normal" fill="#333333">(n=17,365)</text>
<text x="765.1" y="572.8" font-size="10.5" text-anchor="middle" font-weight="normal" fill="#333333">4年</text>
<text x="765.1" y="586.2" font-size="10.5" text-anchor="middle" font-weight="normal" fill="#333333">(n=15,968)</text>
<text x="821.0" y="572.8" font-size="10.5" text-anchor="middle" font-weight="normal" fill="#333333">5年</text>
<text x="821.0" y="586.2" font-size="10.5" text-anchor="middle" font-weight="normal" fill="#333333">(n=14,059)</text>
<text x="876.9" y="572.8" font-size="10.5" text-anchor="middle" font-weight="normal" fill="#333333">6年</text>
<text x="876.9" y="586.2" font-size="10.5" text-anchor="middle" font-weight="normal" fill="#333333">(n=15,304)</text>
<text x="105.5" y="560.8" font-size="10" text-anchor="middle" font-weight="normal" fill="#333333">平成</text>
<text x="597.3" y="560.8" font-size="10" text-anchor="middle" font-weight="normal" fill="#333333">令和</text>
</svg>
<div style="position:absolute;will-change:transform;left:133px;top:597.5px;font-size:13px;line-height:17px;color:#111;-webkit-text-stroke:0.3px #111;font-family:'Liberation Sans', sans-serif;white-space:nowrap;letter-spacing:-0.75px">
(注1)<span style="margin-left:-5px">「</span>モバイル端末全体<span style="margin-right:-6px">」</span>には、平成 21 年から平成 24 年までは携帯情報端末(PDA)、平成 22 年以降はスマートフォン、令和2年までは PHS を含む。<br><span style="letter-spacing:-0.4px">(注2)経年比較のため、この図表は無回答を含む形で集計。</span></div>
</body></html>
